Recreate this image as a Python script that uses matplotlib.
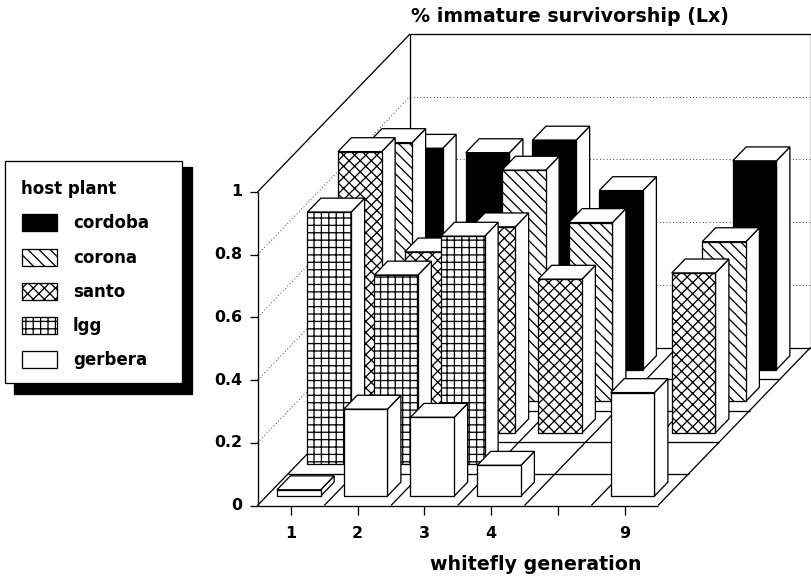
#!/usr/bin/env python3

import matplotlib as mpl
mpl.use('Agg')
import matplotlib.pyplot as plt
from matplotlib.patches import Polygon, Rectangle

generations = ['1', '2', '3', '4', '', '9']
yticks = [0, 0.2, 0.4, 0.6, 0.8, 1]
ytick_labels = ['0', '0.2', '0.4', '0.6', '0.8', '1']
hosts = ['gerbera', 'lgg', 'santo', 'corona', 'cordoba']
legend_order = ['cordoba', 'corona', 'santo', 'lgg', 'gerbera']

# None = no bar
gerbera = [0.02, 0.277, 0.251, 0.098, None, 0.33]
lgg = [0.805, 0.604, 0.728, None, None, None]
santo = [0.897, 0.577, 0.657, 0.49, None, 0.51]
corona = [0.825, None, 0.737, 0.57, None, 0.509]
cordoba = [0.706, 0.692, 0.732, 0.571, None, 0.666]
series = [gerbera, lgg, santo, corona, cordoba]

styles = {
    'gerbera': {'facecolor': 'white', 'hatch': None},
    'lgg': {'facecolor': 'white', 'hatch': '+++'},
    'santo': {'facecolor': 'white', 'hatch': 'xxxx'},
    'corona': {'facecolor': 'white', 'hatch': '\\\\\\\\'},
    'cordoba': {'facecolor': 'black', 'hatch': None},
}

DPI = 133
LW = 0.7
mpl.rcParams['hatch.linewidth'] = 0.7
font = dict(family='DejaVu Sans', weight='bold', color='black')

# oblique projection, all in pixels of the figure
X0, Y0 = 257.5, 505.5
CAT_W, DEPTH_X, DEPTH_Y, Z_H = 66.75, 30.5, 31.6, 313.5
BAR_L, BAR_R = 0.155, 0.81
BAR_F, BAR_B = 0.3, 0.74


def proj(c, d, z=0.0):
    return X0 + CAT_W * c + DEPTH_X * d, Y0 - DEPTH_Y * d - Z_H * z


fig = plt.figure(figsize=(811 / DPI, 580 / DPI), dpi=DPI)
ax = fig.add_axes([0, 0, 1, 1])
ax.set_xlim(0, 811)
ax.set_ylim(580, 0)
ax.axis('off')

nc, nd = len(generations), len(hosts)


def line(p, q, **kw):
    kw.setdefault('color', 'black')
    kw.setdefault('lw', LW)
    ax.plot([p[0], q[0]], [p[1], q[1]], solid_capstyle='butt', **kw)


# walls
line(proj(0, 0, 0), proj(0, 0, 1))
line(proj(0, 0, 1), proj(0, nd, 1))
line(proj(0, nd, 0), proj(0, nd, 1))
line(proj(0, nd, 1), proj(nc, nd, 1))
line(proj(nc, nd, 0), proj(nc, nd, 1), lw=LW)
for v in yticks[1:-1]:
    line(proj(0, 0, v), proj(0, nd, v), ls=(0, (1, 3)), lw=0.45)
    line(proj(0, nd, v), proj(nc, nd, v), ls=(0, (1, 3)), lw=0.45)

# floor
for d in range(nd + 1):
    line(proj(0, d), proj(nc, d))
for c in range(nc + 1):
    line(proj(c, 0), proj(c, nd))

# axes ticks and labels
for v, lab in zip(yticks, ytick_labels):
    x, y = proj(0, 0, v)
    line((x - 8, y), (x, y))
    ax.text(x - 15, y, lab, ha='right', va='center', fontsize=8.6, **font)
for c, lab in enumerate(generations):
    x, y = proj(c + 0.5, 0)
    line((x, y), (x, y + 9))
    ax.text(x, 533, lab, ha='center', va='center', fontsize=8.6, **font)
ax.text(536, 564, 'whitefly generation', ha='center', va='center', fontsize=10.3, **font)
ax.text(570, 17, '% immature survivorship (Lx)', ha='center', va='center', fontsize=10.3, **font)

# bars, back row first
zo = 3
for s in range(nd - 1, -1, -1):
    st = styles[hosts[s]]
    for c, v in enumerate(series[s]):
        if v is None:
            continue
        l, r = c + BAR_L, c + BAR_R
        f, b = s + BAR_F, s + BAR_B
        side = [proj(r, f, 0), proj(r, b, 0), proj(r, b, v), proj(r, f, v)]
        top = [proj(l, f, v), proj(r, f, v), proj(r, b, v), proj(l, b, v)]
        front = [proj(l, f, 0), proj(r, f, 0), proj(r, f, v), proj(l, f, v)]
        ax.add_patch(Polygon(side, fc='white', ec='black', lw=LW, zorder=zo))
        ax.add_patch(Polygon(top, fc='white', ec='black', lw=LW, zorder=zo))
        ax.add_patch(Polygon(front, fc=st['facecolor'], ec='black', lw=LW,
                             hatch=st['hatch'], zorder=zo))
    zo += 1

# legend box with its shadow
ax.add_patch(Rectangle((14, 167), 178, 227, fc='black', ec='black', lw=LW, zorder=20))
ax.add_patch(Rectangle((5, 161), 177, 222, fc='white', ec='black', lw=LW, zorder=21))
ax.text(21, 189, 'host plant', ha='left', va='center', fontsize=9.0, zorder=22, **font)
for name, y in zip(legend_order, [222, 257, 291, 325, 359]):
    st = styles[name]
    ax.add_patch(Rectangle((22, y - 8.5), 35, 17, fc=st['facecolor'], ec='black', lw=LW,
                           hatch=st['hatch'], zorder=22))
    ax.text(73, y + 1, name, ha='left', va='center', fontsize=9.0, zorder=22, **font)

fig.savefig('out.png', dpi=DPI)
